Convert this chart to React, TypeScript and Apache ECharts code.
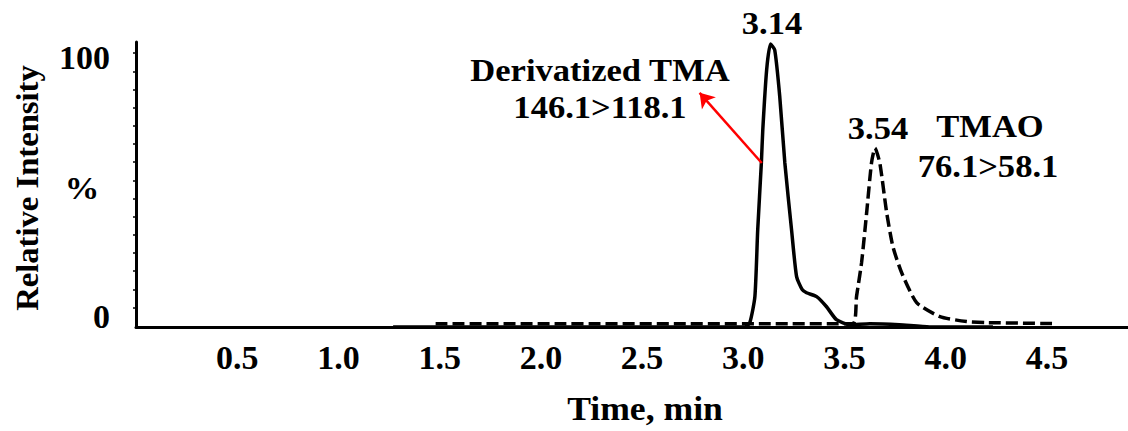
import React, { useEffect, useRef } from "react";
import * as echarts from "echarts";

const FONT = "'Liberation Serif', 'Times New Roman', serif";

// Retention time (min) / relative intensity (%)
const tmaTime = [1.27, 3.007, 3.032, 3.057, 3.071, 3.089, 3.096, 3.115, 3.134, 3.155, 3.18, 3.205, 3.238, 3.263, 3.29, 3.312, 3.362, 3.411, 3.46, 3.526, 3.625, 3.77, 3.92, 4.233];
const tmaIntensity = [-4, -4, -2.3, 7.7, 33.5, 59.2, 71.9, 95, 105, 102.7, 84.6, 59.2, 33.5, 15.4, 10.5, 9.2, 7.7, 3.8, -1.2, -3.1, -2.7, -3.1, -4, -4];

const tmaoTime = [1.48, 3.541, 3.559, 3.584, 3.609, 3.633, 3.65, 3.674, 3.708, 3.739, 3.782, 3.856, 3.971, 4.103, 4.202, 4.53];
const tmaoIntensity = [-2.7, -2.7, 7.7, 20.8, 40, 59.2, 64.9, 59.2, 40, 26.9, 16.9, 5.4, 0, -1.9, -2.3, -2.7];

const xTickLabels = [0.5, 1.0, 1.5, 2.0, 2.5, 3.0, 3.5, 4.0, 4.5];
const yTickLabels = [0, 100];
const yMinorTicks = [101.5, 94.5, 87.5, 80.5, 73.5, 66.5, 59.5, 52.5, 45.5, 38.5, 31.5, 24.5, 17.5, 10.5, 3.5];

// Arrow from the TMA peak flank to its label
const arrowFrom = [3.091, 59.2];
const arrowTo = [2.784, 86.2];

export default function App() {
  const ref = useRef<HTMLDivElement>(null);
  useEffect(() => {
    if (!ref.current) return;
    const chart = echarts.init(ref.current, null, { renderer: "svg" });
    const txt = (text: string, x: number, y: number, size = 32, extra: any = {}) => ({
      type: "text",
      x,
      y,
      scaleX: 1.08,
      ...extra,
      style: {
        text,
        fill: "#000",
        font: `bold ${size}px ${FONT}`,
        align: "center",
        verticalAlign: "middle",
      },
    });
    chart.setOption({
      animation: false,
      backgroundColor: "#fff",
      grid: { left: 136, right: 0, top: 42, bottom: 104 },
      xAxis: {
        type: "value",
        min: 0,
        max: 4.9,
        splitLine: { show: false },
        axisTick: { show: false },
        axisLine: { onZero: false, lineStyle: { color: "#000", width: 3 } },
        axisLabel: {
          customValues: xTickLabels,
          formatter: (v: number) => v.toFixed(1),
          color: "#000",
          fontFamily: FONT,
          fontWeight: "bold",
          fontSize: 34,
          margin: 13,
        },
      },
      yAxis: {
        type: "value",
        min: -4,
        max: 105.8,
        splitLine: { show: false },
        axisLine: { show: true, onZero: false, lineStyle: { color: "#000", width: 3 } },
        axisTick: {
          show: true,
          customValues: yMinorTicks,
          length: 3,
          lineStyle: { color: "#000", width: 1.5 },
        },
        axisLabel: {
          customValues: yTickLabels,
          color: "#000",
          fontFamily: FONT,
          fontWeight: "bold",
          fontSize: 34,
          margin: 26,
        },
      },
      series: [
        {
          name: "Derivatized TMA",
          type: "line",
          data: tmaTime.map((t, i) => [t, tmaIntensity[i]]),
          showSymbol: false,
          symbol: "none",
          smooth: 0.2,
          lineStyle: { color: "#000", width: 3.5 },
          z: 3,
          markLine: {
            silent: true,
            symbol: ["none", "arrow"],
            symbolSize: 14,
            label: { show: false },
            lineStyle: { color: "#ff0000", width: 2.5, type: "solid" },
            data: [[{ coord: arrowFrom }, { coord: arrowTo }]],
          },
        },
        {
          name: "TMAO",
          type: "line",
          data: tmaoTime.map((t, i) => [t, tmaoIntensity[i]]),
          showSymbol: false,
          symbol: "none",
          smooth: 0.2,
          lineStyle: { color: "#000", width: 3.5, type: [12, 5] },
          z: 2,
        },
      ],
      graphic: [
        txt("3.14", 772, 23),
        txt("3.54", 878, 128),
        txt("TMAO", 990, 126),
        txt("76.1>58.1", 988, 166),
        txt("Derivatized TMA", 600, 70),
        txt("146.1>118.1", 600, 107),
        txt("%", 82, 188),
        txt("Relative Intensity", 27, 188, 32, { rotation: Math.PI / 2, scaleX: 1.02 }),
        txt("Time, min", 645, 408, 33),
      ],
    });
    return () => chart.dispose();
  }, []);
  return (
    <div
      ref={ref}
      style={{ position: "absolute", left: 0, top: 0, width: 1128, height: 431 }}
    />
  );
}
